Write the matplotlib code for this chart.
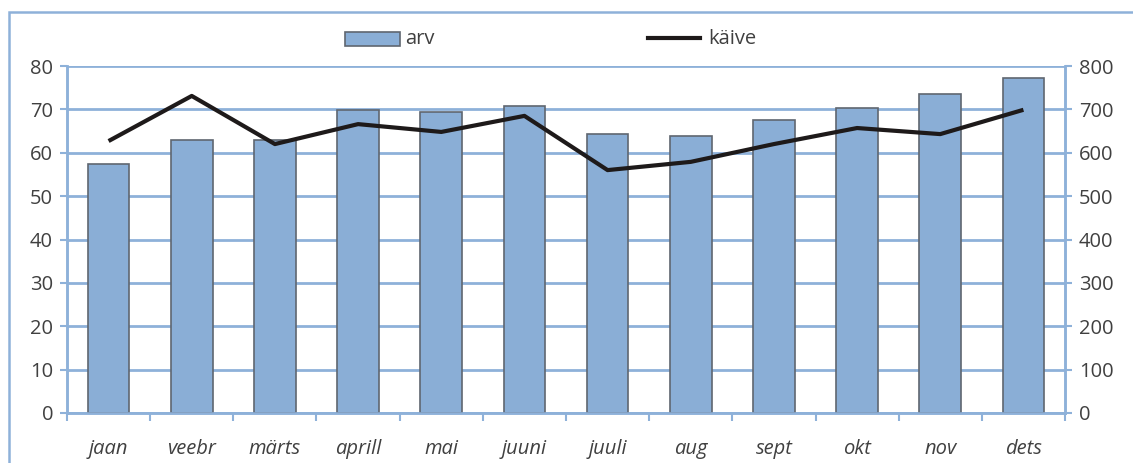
import numpy as np
import matplotlib
matplotlib.use("Agg")
import matplotlib.pyplot as plt
from matplotlib.patches import Rectangle
from matplotlib.lines import Line2D

months = ['jaan', 'veebr', 'märts', 'aprill', 'mai', 'juuni',
          'juuli', 'aug', 'sept', 'okt', 'nov', 'dets']
arv = [57.4, 63.0, 63.0, 69.9, 69.4, 70.8, 64.3, 63.9, 67.5, 70.3, 73.5, 77.2]
kaive = [627, 731, 620, 666, 648, 685, 560, 579, 620, 657, 643, 699]

bar_c = '#8AAED6'
edge_c = '#5F6670'
line_c = '#1E1A1A'
grid_c = '#8EB1D9'
txt_c = '#404040'

plt.rcParams['font.family'] = ['Open Sans', 'DejaVu Sans']

W, H = 1133, 463
fig = plt.figure(figsize=(W / 100, H / 100), dpi=100)
ax = fig.add_axes([67 / W, 1 - 413 / H, (1065 - 67) / W, (413 - 66) / H])
ax2 = ax.twinx()

x = np.arange(len(months))
ax.bar(x, arv, width=0.5, color=bar_c, edgecolor=edge_c, linewidth=1.2, zorder=3)
ax.set_xlim(-0.5, len(months) - 0.5)
ax.set_ylim(0, 80)
ax.set_yticks(range(0, 81, 10))
ax.yaxis.grid(True, color=grid_c, linewidth=2, zorder=0)
ax.set_axisbelow(True)

ax2.plot(x, kaive, color=line_c, linewidth=3, solid_capstyle='butt', zorder=4)
ax2.set_ylim(0, 800)
ax2.set_yticks(range(0, 801, 100))

for a in (ax, ax2):
    for s in a.spines.values():
        s.set_color(grid_c)
        s.set_linewidth(1.8)
    a.tick_params(axis='y', colors=grid_c, labelcolor=txt_c, labelsize=14.5,
                  length=5, width=1.5, pad=5)
    a.spines['top'].set_visible(False)

ax.set_xticks(x)
ax.set_xticklabels(months, fontsize=14.5, style='italic', color=txt_c)
ax.tick_params(axis='x', length=0, pad=19)
ax.set_xticks(np.arange(-0.5, len(months), 1), minor=True)
ax.tick_params(axis='x', which='minor', length=6, width=1.5, color=grid_c, direction='out')

# outer frame
fig.patches.append(Rectangle((9 / W, -0.1), 1.2, 1 - 12 / H + 0.1,
                             transform=fig.transFigure, fill=False,
                             edgecolor=grid_c, linewidth=1.8))

# legend, drawn by hand in figure pixels
fig.patches.append(Rectangle((345 / W, 1 - 46 / H), 55 / W, 14 / H,
                             transform=fig.transFigure, facecolor=bar_c,
                             edgecolor=edge_c, linewidth=1.2))
fig.text(405 / W, 1 - 39 / H, 'arv', fontsize=14.5, color=txt_c, va='center')
fig.lines.append(Line2D([648 / W, 700 / W], [1 - 38 / H, 1 - 38 / H],
                        transform=fig.transFigure, color=line_c, linewidth=3))
fig.text(708 / W, 1 - 39 / H, 'käive', fontsize=14.5, color=txt_c, va='center')

fig.savefig('out.png', dpi=100)
